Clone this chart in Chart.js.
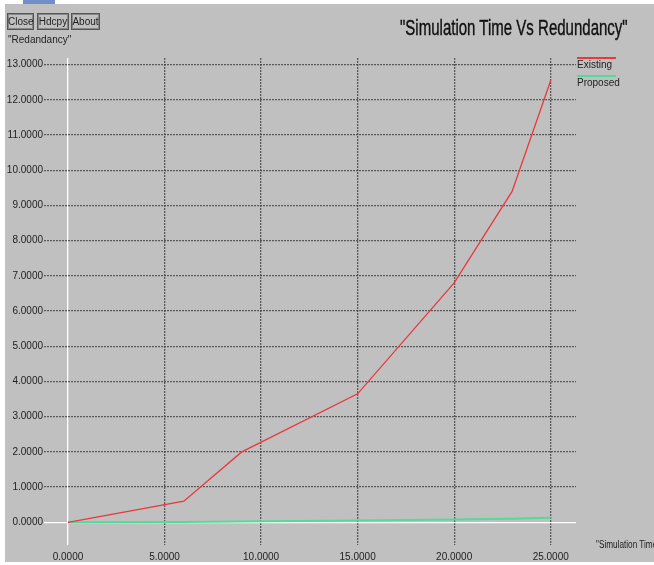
<!DOCTYPE html>
<html>
<head>
<meta charset="utf-8">
<script src="https://cdn.jsdelivr.net/npm/chart.js@4.4.1/dist/chart.umd.min.js"></script>
<style>
  html, body { margin: 0; padding: 0; background: #ffffff; }
  #frame { position: absolute; left: 5px; top: 4px; width: 649px; height: 558px; background: #c0c0c0; overflow: hidden; }
  #bar { position: absolute; left: 23px; top: 0; width: 32px; height: 4px; background: #6f8fc8; }
  #wrap { position: absolute; left: -5px; top: -4px; width: 654px; height: 565px; }
  .btn { position: absolute; top: 13px; height: 15px; border: 1px solid #555; box-shadow: inset 0 0 0 1px #888;
         font: 10px "Liberation Sans", Arial, sans-serif; color: #222; line-height: 15px; text-align: center; }
  .lbl { position: absolute; font: 10px "Liberation Sans", Arial, sans-serif; color: #222; white-space: nowrap; }
  #title { position: absolute; left: 400px; top: 15px; font: 22px "Liberation Sans", Arial, sans-serif; color: #111;
           -webkit-text-stroke: 0.4px #111; white-space: nowrap; transform-origin: 0 0; }
  #xname { transform-origin: 0 0; transform: scaleX(0.82); }
  .leg { position: absolute; left: 577px; width: 39px; height: 2px; }
</style>
</head>
<body>
<div id="frame">
  <div id="wrap">
    <canvas id="chart" width="654" height="565"></canvas>
    <div class="btn" style="left:7px;width:25px">Close</div>
    <div class="btn" style="left:37px;width:30px">Hdcpy</div>
    <div class="btn" style="left:71px;width:27px">About</div>
    <div class="lbl" style="left:8px;top:34px">"Redandancy"</div>
    <div id="title">"Simulation Time Vs Redundancy"</div>
    <div class="lbl" id="xname" style="left:596px;top:539px">"Simulation Time"</div>
    <div id="legend"></div>
  </div>
</div>
<div id="bar"></div>
<script>
const simTime = [0, 6, 9, 15, 20, 23, 25];
const existing = [0, 0.6, 2.0, 3.65, 6.8, 9.4, 12.55];
const proposed = [0, 0.01, 0.02, 0.05, 0.08, 0.1, 0.13];
const xTicks = [0, 5, 10, 15, 20, 25];
const yTicks = [0, 1, 2, 3, 4, 5, 6, 7, 8, 9, 10, 11, 12, 13];
const seriesNames = ['Existing', 'Proposed'];
const seriesColors = ['#e8393c', '#4fdc98'];

// squeeze the title to the narrow width of the original
const title = document.getElementById('title');
title.style.transform = 'scaleX(' + (228 / title.offsetWidth) + ')';

// legend on the right, line above each name
const legend = document.getElementById('legend');
seriesNames.forEach(function(name, i) {
    const top = 57 + i * 18;
    legend.insertAdjacentHTML('beforeend',
        '<div class="leg" style="top:' + top + 'px;background:' + seriesColors[i] + '"></div>' +
        '<div class="lbl" style="left:577px;top:' + (top + 2) + 'px">' + name + '</div>');
});

const gridColor = function(ctx) {
    return ctx.tick && ctx.tick.value === 0 ? '#ffffff' : 'rgba(55,55,55,0.75)';
};
const gridDash = function(ctx) {
    return ctx.tick && ctx.tick.value === 0 ? [] : [2, 1];
};
const tickFont = { family: '"Liberation Sans", Arial, sans-serif', size: 10 };

new Chart(document.getElementById('chart'), {
    type: 'line',
    data: {
        datasets: [
            {
                label: seriesNames[0],
                data: simTime.map((x, i) => ({ x: x, y: existing[i] })),
                borderColor: seriesColors[0],
                borderWidth: 1.3,
                pointRadius: 0,
                tension: 0,
            },
            {
                label: seriesNames[1],
                data: simTime.map((x, i) => ({ x: x, y: proposed[i] })),
                borderColor: seriesColors[1],
                borderWidth: 2,
                pointRadius: 0,
                tension: 0,
            },
        ],
    },
    options: {
        responsive: false,
        animation: false,
        layout: { padding: { top: 58, right: 78, left: 0, bottom: 0 } },
        plugins: { legend: { display: false }, tooltip: { enabled: false } },
        scales: {
            x: {
                type: 'linear',
                min: -1.243,
                max: 26.31,
                afterBuildTicks: function(axis) { axis.ticks = xTicks.map(v => ({ value: v })); },
                afterFit: function(axis) { axis.height = 20; },
                ticks: { color: '#222', font: tickFont, padding: 6, maxRotation: 0,
                         callback: v => v.toFixed(4) },
                grid: { color: gridColor, drawTicks: false, lineWidth: 1.3 },
                border: { display: false, dash: gridDash },
            },
            y: {
                min: -0.645,
                max: 13.19,
                afterBuildTicks: function(axis) { axis.ticks = yTicks.map(v => ({ value: v })); },
                afterFit: function(axis) { axis.width = 44; },
                ticks: { color: '#222', font: tickFont, padding: 1,
                         callback: v => v.toFixed(4) },
                grid: { color: gridColor, drawTicks: false, lineWidth: 1.3 },
                border: { display: false, dash: gridDash },
            },
        },
    },
});
</script>
</body>
</html>
